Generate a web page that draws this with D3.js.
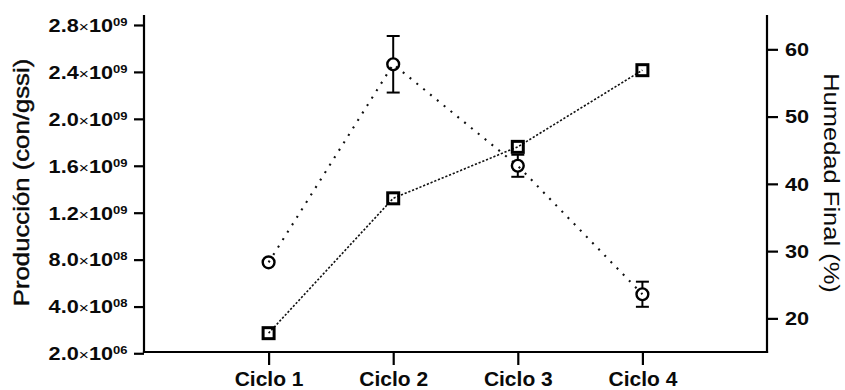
<!DOCTYPE html>
<html>
<head>
<meta charset="utf-8">
<script src="https://cdn.jsdelivr.net/npm/d3@7"></script>
<style>
  html, body { margin: 0; padding: 0; background: #fff; }
  svg { display: block; }
  text { font-family: "Liberation Sans", Arial, sans-serif; fill: #0a0a0a; }
</style>
</head>
<body>
<svg id="chart" width="845" height="390"></svg>
<script>
// Cycles on the x axis
const ciclos = ["Ciclo 1", "Ciclo 2", "Ciclo 3", "Ciclo 4"];

// Producción (con/gssi), left axis, circles with error bars
const produccion = [7.77e8, 2.465e9, 1.60e9, 5.05e8];
const produccionErr = [3.0e7, 2.41e8, 9.4e7, 1.07e8];

// Humedad final (%), right axis, squares
const humedad = [17.8, 37.85, 45.5, 56.9];

// Left axis ticks: values, mantissas and exponents of the labels
const leftTicks = [2e6, 4e8, 8e8, 1.2e9, 1.6e9, 2.0e9, 2.4e9, 2.8e9];
const leftMant = ["2.0", "4.0", "8.0", "1.2", "1.6", "2.0", "2.4", "2.8"];
const leftExp = ["06", "08", "08", "09", "09", "09", "09", "09"];

// Right axis ticks
const rightTicks = [20, 30, 40, 50, 60];

const svg = d3.select("#chart");

const xLeft = 144, xRight = 767, yTop = 15, yBase = 352;

const x = d3.scalePoint().domain(ciclos).range([xLeft, xRight]).padding(1);
const yL = d3.scaleLinear().domain([0, 2.885e9]).range([353.5, yTop]);
const yR = d3.scaleLinear().domain([15, 65]).range([yBase, yTop + 0.7]);

const axisW = 2.2;

// ---- left axis
const gL = svg.append("g").attr("transform", `translate(${xLeft},0)`)
  .call(d3.axisLeft(yL).tickValues(leftTicks).tickSize(10).tickSizeOuter(0));
gL.select(".domain").remove();
gL.selectAll(".tick line").attr("stroke", "#000").attr("stroke-width", axisW);
gL.selectAll(".tick text").each(function (d, i) {
  const t = d3.select(this);
  t.text(null).attr("x", null).attr("dy", null)
    .attr("text-anchor", "end")
    .attr("transform", "translate(-16.5,6.3) scale(1.24,1)")
    .style("font-size", "17.5px").style("font-weight", "bold").attr("font-size", null).attr("font-family", null);
  t.append("tspan").text(leftMant[i]);
  t.append("tspan").text("×").style("font-weight", "normal").style("font-size", "14px");
  t.append("tspan").text("10");
  t.append("tspan").text(leftExp[i]).attr("dy", -6).style("font-size", "10.5px");
});
svg.append("line").attr("x1", xLeft).attr("x2", xLeft).attr("y1", yTop).attr("y2", yBase + 1.1)
  .attr("stroke", "#000").attr("stroke-width", axisW);

// ---- right axis
const gR = svg.append("g").attr("transform", `translate(${xRight},0)`)
  .call(d3.axisRight(yR).tickValues(rightTicks).tickSize(11).tickSizeOuter(0));
gR.select(".domain").remove();
gR.selectAll(".tick line").attr("stroke", "#000").attr("stroke-width", axisW);
gR.selectAll(".tick text")
  .attr("x", null).attr("dy", null).attr("font-size", null).attr("font-family", null)
  .attr("text-anchor", "start")
  .attr("transform", "translate(18,6.2) scale(1.24,1)")
  .style("font-size", "17.5px").style("font-weight", "bold");
svg.append("line").attr("x1", xRight).attr("x2", xRight).attr("y1", yTop).attr("y2", yBase + 1.1)
  .attr("stroke", "#000").attr("stroke-width", axisW);

// ---- bottom axis
const gB = svg.append("g").attr("transform", `translate(0,${yBase})`)
  .call(d3.axisBottom(x).tickSize(13).tickSizeOuter(0));
gB.select(".domain").remove();
gB.selectAll(".tick line").attr("stroke", "#000").attr("stroke-width", axisW);
gB.selectAll(".tick text")
  .attr("y", null).attr("dy", null).attr("font-size", null).attr("font-family", null)
  .attr("transform", "translate(0,34) scale(1.05,1)")
  .style("font-size", "20px").style("font-weight", "bold");
svg.append("line").attr("x1", xLeft - 1.1).attr("x2", xRight + 1.1).attr("y1", yBase).attr("y2", yBase)
  .attr("stroke", "#000").attr("stroke-width", axisW);

// ---- axis titles
svg.append("text")
  .attr("transform", "translate(29,182.5) rotate(-90) scale(1.17,1)")
  .attr("text-anchor", "middle")
  .style("font-size", "22px")
  .style("stroke", "#0a0a0a").style("stroke-width", 0.4)
  .text("Producción (con/gssi)");
svg.append("text")
  .attr("transform", "translate(824,183) rotate(90) scale(1.16,1)")
  .attr("text-anchor", "middle")
  .style("font-size", "22px")
  .text("Humedad Final (%)");

// ---- Humedad series: fine dashed line with hollow square markers
const lineH = d3.line().x((d, i) => x(ciclos[i])).y(d => yR(d));
svg.append("path").datum(humedad)
  .attr("d", lineH)
  .attr("fill", "none").attr("stroke", "#111")
  .attr("stroke-width", 1.6).attr("stroke-dasharray", "2.2,1.8");
const sq = 11;
svg.selectAll("rect.h").data(humedad).enter().append("rect")
  .attr("class", "h")
  .attr("x", (d, i) => x(ciclos[i]) - sq / 2)
  .attr("y", d => yR(d) - sq / 2)
  .attr("width", sq).attr("height", sq)
  .attr("fill", "none").attr("stroke", "#000").attr("stroke-width", 3);

// ---- Producción series: dotted line, hollow circles and error bars
const lineP = d3.line().x((d, i) => x(ciclos[i])).y(d => yL(d));
svg.append("path").datum(produccion)
  .attr("d", lineP)
  .attr("fill", "none").attr("stroke", "#111")
  .attr("stroke-width", 2.1).attr("stroke-dasharray", "2,6.8");

const r = 5.9;
const err = svg.append("g");
produccion.forEach((v, i) => {
  const cx = x(ciclos[i]);
  const cy = yL(v);
  const y1 = yL(v + produccionErr[i]), y2 = yL(v - produccionErr[i]);
  // whiskers run from the marker edge out to the caps
  if (cy - r > y1) {
    err.append("line").attr("x1", cx).attr("x2", cx).attr("y1", y1).attr("y2", cy - r)
      .attr("stroke", "#000").attr("stroke-width", 2);
    err.append("line").attr("x1", cx - 6.5).attr("x2", cx + 6.5).attr("y1", y1).attr("y2", y1)
      .attr("stroke", "#000").attr("stroke-width", 2);
  }
  if (y2 > cy + r) {
    err.append("line").attr("x1", cx).attr("x2", cx).attr("y1", cy + r).attr("y2", y2)
      .attr("stroke", "#000").attr("stroke-width", 2);
    err.append("line").attr("x1", cx - 6.5).attr("x2", cx + 6.5).attr("y1", y2).attr("y2", y2)
      .attr("stroke", "#000").attr("stroke-width", 2);
  }
});
svg.selectAll("circle.p").data(produccion).enter().append("circle")
  .attr("class", "p")
  .attr("cx", (d, i) => x(ciclos[i]))
  .attr("cy", d => yL(d))
  .attr("r", r)
  .attr("fill", "none").attr("stroke", "#000").attr("stroke-width", 2.4);
</script>
</body>
</html>
